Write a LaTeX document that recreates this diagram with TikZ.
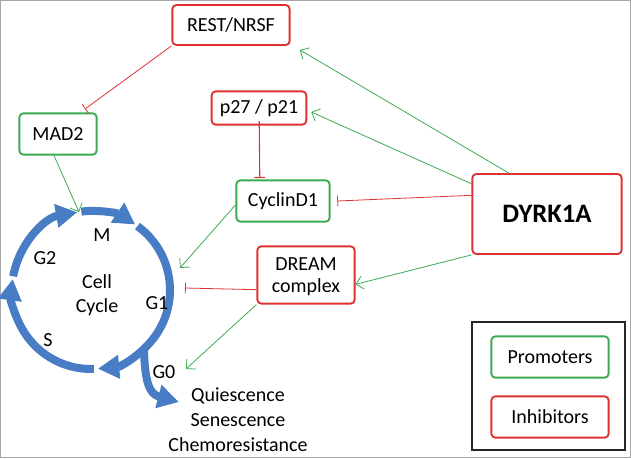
\documentclass[tikz,border=0pt]{standalone}
\usepackage{fontspec}
\setmainfont{Carlito}
\usetikzlibrary{positioning,calc,arrows.meta}
\tikzset{>=stealth}
\definecolor{promgreen}{RGB}{60,170,80}
\definecolor{inhred}{RGB}{222,50,50}
\definecolor{cycblue}{RGB}{72,124,196}
\tikzset{
  promoter/.style={draw=promgreen,line width=1.4pt,rounded corners=3pt,fill=white,align=center},
  inhibitor/.style={draw=inhred,line width=1.4pt,rounded corners=3pt,fill=white,align=center},
  act/.style={draw=promgreen,line width=0.6pt,-{Straight Barb[length=5pt,width=10pt]}},
  blk/.style={draw=inhred,line width=0.6pt,-{Bar[width=8pt]}},
  cyc/.style={cycblue,line width=6pt,-{Triangle[length=16pt,width=17pt]}}
}

\begin{document}
\begin{tikzpicture}[x=0.75pt,y=-0.75pt,font=\fontsize{15}{18}\selectfont]
\useasboundingbox (0,0) rectangle (631,458);
\draw[gray!70,line width=1pt] (0.7,0.7) rectangle (630.3,457.3);

% Nodes
\node[inhibitor,minimum width=88pt,minimum height=30pt] (rest) at (231,25) {REST/NRSF};
\node[promoter,minimum width=58pt,minimum height=31pt] (mad) at (58,134) {MAD2};
\node[inhibitor,minimum width=71pt,minimum height=25pt] (pp) at (259,108) {p27 / p21};
\node[promoter,minimum width=70pt,minimum height=31pt] (cycd) at (283,201) {CyclinD1};
\node[inhibitor,minimum width=112pt,minimum height=60pt,font=\fontsize{20}{24}\selectfont\bfseries] (dyrk) at (547,214) {DYRK1A};
\node[inhibitor,minimum width=73pt,minimum height=43pt,text depth=0pt,
  font=\fontsize{15}{17}\selectfont] (dream) at (306,275) {DREAM\\complex};

% Legend
\draw[black!85,line width=0.8pt] (472,322) rectangle (625,450);
\node[promoter,minimum width=88pt,minimum height=31pt] (prom) at (550,357) {Promoters};
\node[inhibitor,minimum width=88pt,minimum height=31pt] (inh) at (550,417) {Inhibitors};

% Cell cycle
\coordinate (C) at (91,290);
\begin{scope}[shift={(C)},yscale=-1]
\draw[cyc] (170:79) arc (170:100:79);
\draw[cyc] (97:79) arc (97:56:79);
\draw[cyc] (54:79) arc (54:-85:79);
\draw[cyc] (-88:79) arc (-88:-188:79);
\draw[cyc] (-48:79) .. controls (54,-92) and (58,-104) .. (88,-112) coordinate (out);
\coordinate (top) at (-12,78);
\coordinate (g1) at (89,22);
\coordinate (g1b) at (94,2);
\coordinate (g0) at (95,-79);
\end{scope}
\coordinate (ppout) at (259.2,121);
\coordinate (cyctop) at (259.8,178);

\node (m) at (102,235) {M};
\node (g2) at (45,258) {G2};
\node[align=center] (cell) at (97,295) {Cell\\Cycle};
\node (g1lab) at (157,303) {G1};
\node (s) at (48,340) {S};
\node (g0lab) at (164,372) {G0};
\node[align=center,font=\fontsize{15}{18.75}\selectfont] (fate) at (238,420) {Quiescence\\Senescence\\Chemoresistance};

% Connectors
\draw[blk] (rest.south west) -- (85,109);
\draw[act] (mad.south) ++(-3pt,0) -- (top);
\draw[act] ([xshift=28pt]dyrk.north west) -- ([xshift=7pt,yshift=-3pt]rest.south east);
\draw[act] ([yshift=-8pt]dyrk.north west) -- ([xshift=3pt,yshift=-3pt]pp.east);
\draw[blk] ([yshift=14pt]dyrk.west) -- ([xshift=5pt]cycd.east);
\draw[act] (dyrk.south west) -- ([yshift=-7pt]dream.east);
\draw[blk,line width=0.8pt] (ppout) -- (cyctop);
\draw[act] ([yshift=-3pt]cycd.west) -- (g1);
\draw[blk] ([yshift=-11pt]dream.west) -- (g1b);
\draw[act] (dream.south west) -- (g0);
\end{tikzpicture}
\end{document}
